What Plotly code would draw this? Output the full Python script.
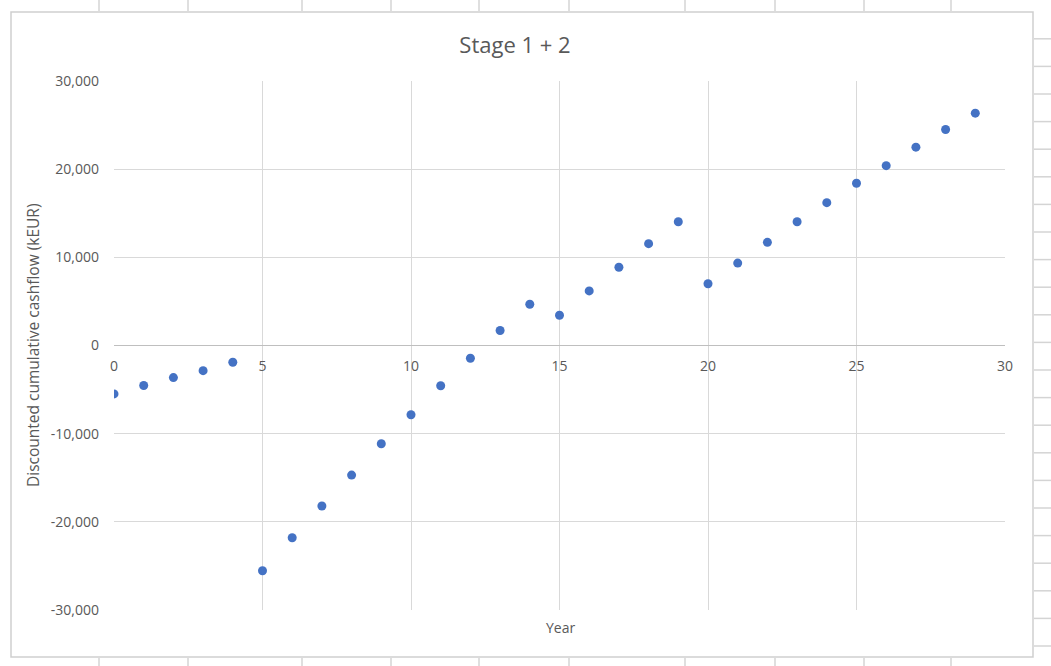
import plotly.graph_objects as go

# ---- data ----
years = [0, 1, 2, 3, 4, 5, 6, 7, 8, 9, 10, 11, 12, 13, 14,
         15, 16, 17, 18, 19, 20, 21, 22, 23, 24, 25, 26, 27, 28, 29]
cumulative_cashflow = [-5490, -4540, -3640, -2850, -1900, -25550, -21800, -18200,
                       -14700, -11140, -7860, -4570, -1440, 1700, 4680, 3430,
                       6190, 8870, 11550, 14040, 7000, 9350, 11700, 14040,
                       16200, 18400, 20400, 22500, 24500, 26350]
x_ticks = [0, 5, 10, 15, 20, 25, 30]
y_ticks = [-30000, -20000, -10000, 0, 10000, 20000, 30000]
y_tick_labels = ["-30,000", "-20,000", "-10,000", "0", "10,000", "20,000", "30,000"]

title_text = "Stage 1 + 2"
x_title = "Year"
y_title = "Discounted cumulative cashflow (kEUR)"

# ---- layout geometry (pixels) ----
W, H = 1051, 666
plot_left, plot_right = 114, 1005
plot_top, plot_bottom = 81, 610

def px_x(p):
    return p / W

def px_y(p):
    return 1 - p / H

xd = [px_x(plot_left), px_x(plot_right)]
yd = [px_y(plot_bottom), px_y(plot_top)]
ymin, ymax = -30000, 30000
zero_pos = yd[0] + (0 - ymin) / (ymax - ymin) * (yd[1] - yd[0])

FONT = "Open Sans"
TXT = "#595959"
GRID = "#d9d9d9"
CELL = "#d4d4d4"

fig = go.Figure()
fig.add_trace(go.Scatter(
    x=years, y=cumulative_cashflow, mode="markers",
    marker=dict(color="#4472C4", size=9, line=dict(width=0)),
    showlegend=False,
))

shapes = []
# chart area border
shapes.append(dict(type="rect", xref="paper", yref="paper",
                   x0=px_x(11), x1=px_x(1033), y0=px_y(657), y1=px_y(12),
                   line=dict(color="#cfcfcf", width=1.5), layer="below"))
# spreadsheet cell lines visible around the chart
col_x = [99, 188, 302, 391, 479, 569, 685, 775, 864, 951]
for cx in col_x:
    shapes.append(dict(type="line", xref="paper", yref="paper",
                       x0=px_x(cx), x1=px_x(cx), y0=1, y1=px_y(11),
                       line=dict(color=CELL, width=1.5), layer="below"))
    shapes.append(dict(type="line", xref="paper", yref="paper",
                       x0=px_x(cx), x1=px_x(cx), y0=px_y(658), y1=0,
                       line=dict(color=CELL, width=1.5), layer="below"))
ry = 38.8
while ry < 660:
    shapes.append(dict(type="line", xref="paper", yref="paper",
                       x0=px_x(1034), x1=1, y0=px_y(ry), y1=px_y(ry),
                       line=dict(color=CELL, width=1.5), layer="below"))
    ry += 27.6

fig.update_layout(
    width=W, height=H,
    margin=dict(l=0, r=0, t=0, b=0, pad=0, autoexpand=False),
    paper_bgcolor="white", plot_bgcolor="white",
    font=dict(family=FONT, color=TXT, size=14),
    title=dict(text=title_text, x=px_x(515), xanchor="center",
               y=px_y(45), yanchor="middle", automargin=False,
               font=dict(family=FONT, size=22, color=TXT)),
    xaxis=dict(domain=xd, range=[0, 30], tickvals=x_ticks,
               showgrid=True, gridcolor=GRID, gridwidth=1,
               zeroline=False, showline=False, ticks="",
               anchor="free", position=zero_pos, automargin=False,
               ticklabelstandoff=10,
               tickfont=dict(family=FONT, size=14, color=TXT)),
    yaxis=dict(domain=yd, range=[ymin, ymax], tickvals=y_ticks,
               ticktext=y_tick_labels,
               showgrid=True, gridcolor=GRID, gridwidth=1,
               zeroline=True, zerolinecolor="#bfbfbf", zerolinewidth=1,
               showline=False, ticks="", ticklabelstandoff=14,
               automargin=False,
               tickfont=dict(family=FONT, size=14, color=TXT)),
    shapes=shapes,
    annotations=[
        dict(text=x_title, xref="paper", yref="paper",
             x=px_x(560), y=px_y(627), xanchor="center", yanchor="middle",
             showarrow=False, font=dict(family=FONT, size=14, color=TXT)),
        dict(text=y_title, xref="paper", yref="paper",
             x=px_x(33), y=px_y(346), xanchor="center", yanchor="middle",
             textangle=-90, showarrow=False,
             font=dict(family=FONT, size=15.5, color=TXT)),
    ],
)

fig.write_html(
    "out.html",
    config={"displayModeBar": False},
    post_script=("document.body.style.margin='0';"
                 "document.body.style.overflow='hidden';"),
)
